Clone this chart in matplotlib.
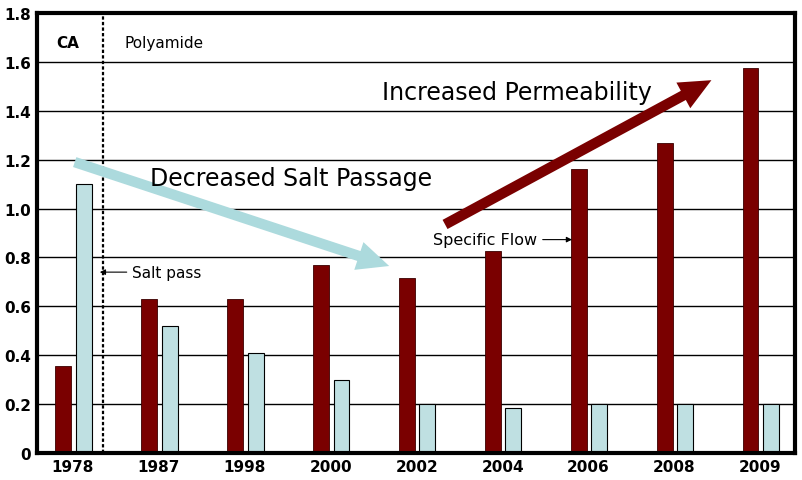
import matplotlib.pyplot as plt
import numpy as np

years = ['1978', '1987', '1998', '2000', '2002', '2004', '2006', '2008', '2009']
specific_flow = [0.355, 0.63, 0.63, 0.77, 0.715, 0.825, 1.16, 1.27, 1.575]
salt_pass = [1.10, 0.52, 0.41, 0.30, 0.20, 0.185, 0.20, 0.20, 0.20]
yticks = [0, 0.2, 0.4, 0.6, 0.8, 1.0, 1.2, 1.4, 1.6, 1.8]
ytick_labels = ['0', '0.2', '0.4', '0.6', '0.8', '1.0', '1.2', '1.4', '1.6', '1.8']

red = '#7a0000'
blue = '#bfe0e2'
arrow_blue = '#acdadd'

fig = plt.figure(figsize=(8.02, 4.81), dpi=100)
ax = fig.add_axes([0.046, 0.056, 0.945, 0.915])

x = np.arange(len(years))
w = 0.185
ax.bar(x - 0.115, specific_flow, w, color=red, edgecolor='#3a0000', linewidth=0.6, zorder=3)
ax.bar(x + 0.125, salt_pass, w, color=blue, edgecolor='black', linewidth=0.8, zorder=3)

ax.set_xlim(-0.42, 8.40)
ax.set_ylim(0, 1.8)
ax.set_yticks(yticks)
ax.set_yticklabels(ytick_labels, fontsize=11, fontweight='bold')
ax.set_xticks(x)
ax.set_xticklabels(years, fontsize=11, fontweight='bold')
ax.tick_params(length=0, pad=4)
ax.yaxis.grid(True, color='black', linewidth=1.0, zorder=0)
ax.set_axisbelow(True)
for s in ax.spines.values():
    s.set_linewidth(3)
    s.set_zorder(5)

# CA / Polyamide separator
ax.axvline(0.35, color='black', linestyle=(0, (1.5, 1.0)), linewidth=1.6, zorder=4)
ax.text(-0.06, 1.68, 'CA', fontsize=11, fontweight='bold', ha='center', va='center')
ax.text(0.6, 1.68, 'Polyamide', fontsize=11, ha='left', va='center')

# trend arrows
style = 'simple,head_width=2.1,head_length=2.3,tail_width=0.75'
ax.annotate('', xy=(3.68, 0.765), xytext=(0.02, 1.19),
            arrowprops=dict(arrowstyle=style, color=arrow_blue, lw=0,
                            shrinkA=0, shrinkB=0), zorder=6)
ax.annotate('', xy=(7.43, 1.525), xytext=(4.33, 0.935),
            arrowprops=dict(arrowstyle=style, color=red, lw=0,
                            shrinkA=0, shrinkB=0), zorder=6)

ax.text(0.9, 1.127, 'Decreased Salt Passage', fontsize=17, ha='left', va='center', zorder=7)
ax.text(3.6, 1.478, 'Increased Permeability', fontsize=17, ha='left', va='center', zorder=7)

# series labels
ax.annotate('Salt pass', xy=(0.28, 0.74), xytext=(0.69, 0.74), fontsize=11, va='center',
            arrowprops=dict(arrowstyle='-|>', color='black', lw=0.8, mutation_scale=8), zorder=7)
ax.annotate('Specific Flow', xy=(5.84, 0.873), xytext=(4.19, 0.873), fontsize=11.5, va='center',
            arrowprops=dict(arrowstyle='-|>', color='black', lw=0.8, mutation_scale=8,
                            shrinkA=2), zorder=7)

fig.savefig('out.png', dpi=100)
